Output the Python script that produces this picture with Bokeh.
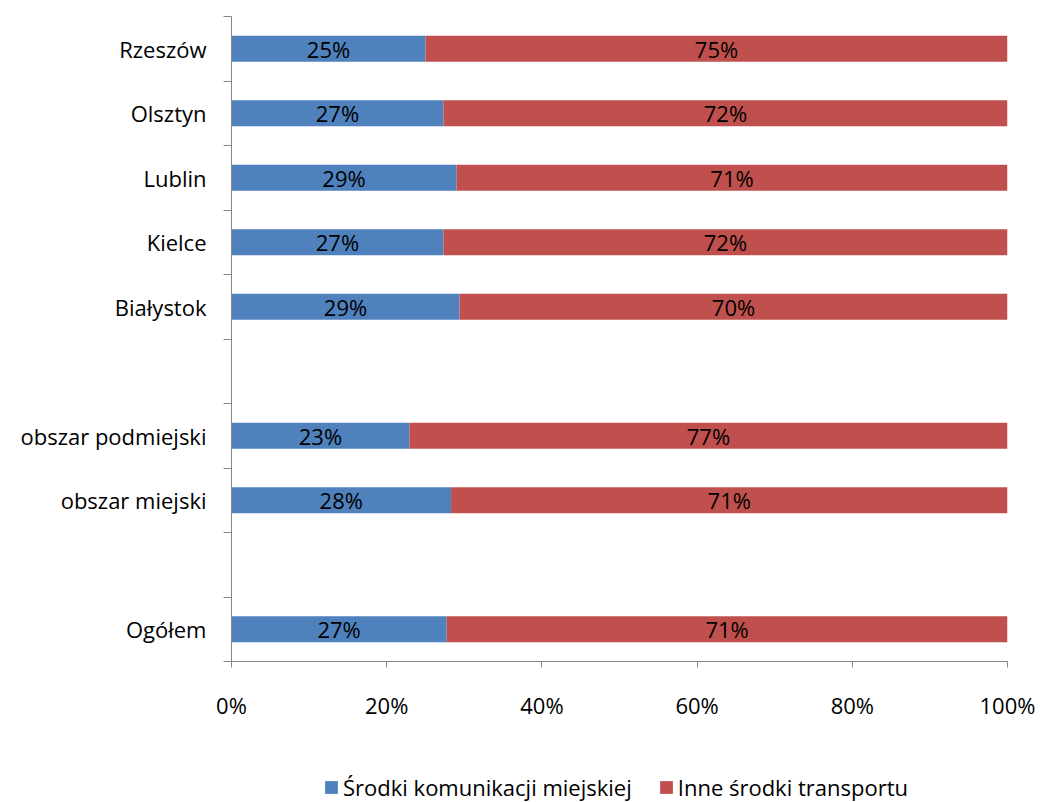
from bokeh.plotting import figure
from bokeh.layouts import column
from bokeh.models import ColumnDataSource, FixedTicker, NumeralTickFormatter, Legend, LegendItem, LabelSet
from bokeh.core.properties import value
from bokeh.embed import file_html
from bokeh.resources import INLINE

# Data (bottom to top); empty strings are blank spacer slots
categories = ["Ogółem", "", "obszar miejski", "obszar podmiejski", "",
              "Białystok", "Kielce", "Lublin", "Olsztyn", "Rzeszów"]
blue_vals = [27.4, None, 28.1, 22.9, None, 29.3, 27.2, 29.0, 27.2, 25.0]
red_vals = [71.4, None, 71.2, 77.0, None, 70.4, 72.4, 71.0, 72.4, 75.0]
series_names = ["Środki komunikacji miejskiej", "Inne środki transportu"]
x_ticks = [0, 0.2, 0.4, 0.6, 0.8, 1.0]

BLUE = "#4F81BD"
RED = "#C0504D"
FONT = "Open Sans"
FS = "22px"

ys, b_end, r_end, b_mid, r_mid, b_lab, r_lab = [], [], [], [], [], [], []
for i, (b, r) in enumerate(zip(blue_vals, red_vals)):
    if b is None:
        continue
    tot = b + r
    ys.append(i + 0.5)
    b_end.append(b / tot)
    r_end.append(1.0)
    b_mid.append(b / tot / 2)
    r_mid.append(b / tot + (r / tot) / 2)
    b_lab.append(f"{round(b):.0f}%")
    r_lab.append(f"{round(r):.0f}%")

src = ColumnDataSource(dict(y=ys, b_end=b_end, r_end=r_end, zero=[0] * len(ys),
                            b_mid=b_mid, r_mid=r_mid, b_lab=b_lab, r_lab=r_lab))

p = figure(width=1040, height=730, x_range=(0, 1), y_range=(0, len(categories)),
           output_backend="svg", toolbar_location=None)
p.min_border_left = 231
p.min_border_right = 33
p.min_border_top = 16
p.min_border_bottom = 69
p.outline_line_color = None
p.xgrid.visible = False
p.ygrid.visible = False

rb = p.hbar(y="y", left="zero", right="b_end", height=0.4, source=src,
            fill_color=BLUE, line_color=None)
rr = p.hbar(y="y", left="b_end", right="r_end", height=0.4, source=src,
            fill_color=RED, line_color=None)

for xcol, tcol in (("b_mid", "b_lab"), ("r_mid", "r_lab")):
    p.add_layout(LabelSet(x=xcol, y="y", text=tcol, source=src, text_align="center",
                          text_baseline="middle", text_font=value(FONT), text_font_size=FS,
                          text_color="black"))

AX = "#868686"
# y axis
yax = p.yaxis[0]
centers = [i + 0.5 for i in range(len(categories))]
yax.ticker = FixedTicker(ticks=centers, minor_ticks=list(range(len(categories) + 1)))
yax.major_label_overrides = {c: name for c, name in zip(centers, categories)}
yax.major_tick_out = 0
yax.major_tick_in = 0
yax.minor_tick_out = 8
yax.minor_tick_in = 0
yax.minor_tick_line_color = AX
yax.axis_line_color = AX
yax.major_label_standoff = 17
yax.major_label_text_font = FONT
yax.major_label_text_font_size = FS
yax.major_label_text_color = "black"

# x axis
xax = p.xaxis[0]
xax.ticker = FixedTicker(ticks=x_ticks, minor_ticks=[])
xax.formatter = NumeralTickFormatter(format="0%")
xax.major_tick_out = 6
xax.major_tick_in = 0
xax.major_tick_line_color = AX
xax.axis_line_color = AX
xax.major_label_standoff = 22
xax.major_label_text_font = FONT
xax.major_label_text_font_size = FS
xax.major_label_text_color = "black"

# Legend strip below the chart
lg = figure(width=1040, height=72, x_range=(0, 1), y_range=(0, 1),
            output_backend="svg", toolbar_location=None)
lg.min_border_left = 0
lg.min_border_right = 0
lg.min_border_top = 0
lg.min_border_bottom = 0
lg.axis.visible = False
lg.grid.visible = False
lg.outline_line_color = None
dummy = ColumnDataSource(dict(y=[-5], l=[0], r=[1]))
db = lg.hbar(y="y", left="l", right="r", height=0.4, source=dummy, fill_color=BLUE, line_color=None)
dr = lg.hbar(y="y", left="l", right="r", height=0.4, source=dummy, fill_color=RED, line_color=None)

legend = Legend(items=[LegendItem(label=series_names[0], renderers=[db]),
                       LegendItem(label=series_names[1], renderers=[dr])],
                orientation="horizontal", location=(92, 0))
legend.label_text_font = FONT
legend.label_text_font_size = FS
legend.label_text_color = "black"
legend.glyph_width = 16
legend.glyph_height = 16
legend.label_standoff = 4
legend.spacing = 26
legend.border_line_color = None
legend.background_fill_alpha = 0
legend.padding = 0
legend.margin = 0
lg.add_layout(legend, "center")

layout = column(p, lg, spacing=0)
open("out.html", "w").write(file_html(layout, INLINE))
